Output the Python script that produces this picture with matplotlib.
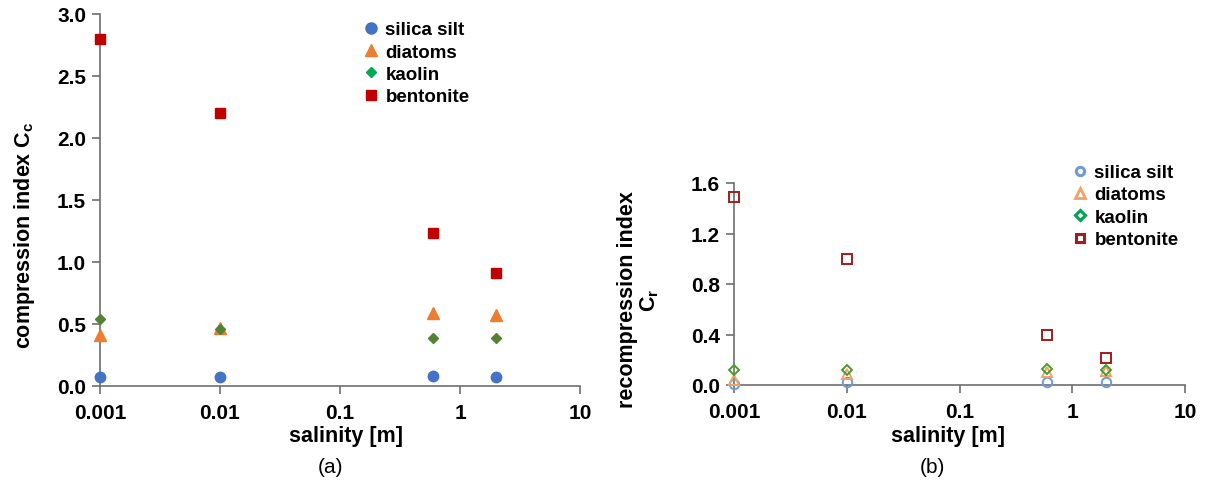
import matplotlib
matplotlib.use("Agg")
import matplotlib.pyplot as plt
from matplotlib.lines import Line2D

plt.rcParams['font.family'] = ['Liberation Sans', 'DejaVu Sans']

salinity = [0.001, 0.01, 0.6, 2.0]
series = ["silica silt", "diatoms", "kaolin", "bentonite"]

cc_silica = [0.07, 0.075, 0.08, 0.075]
cc_diatoms = [0.41, 0.47, 0.59, 0.57]
cc_kaolin = [0.54, 0.46, 0.39, 0.39]
cc_bentonite = [2.80, 2.20, 1.23, 0.91]

cr_silica = [0.01, 0.02, 0.02, 0.02]
cr_diatoms = [0.04, 0.09, 0.10, 0.11]
cr_kaolin = [0.12, 0.12, 0.13, 0.12]
cr_bentonite = [1.49, 1.00, 0.40, 0.21]

x_ticks = [0.001, 0.01, 0.1, 1, 10]
x_ticklabels = ["0.001", "0.01", "0.1", "1", "10"]
cc_ticks = [0.0, 0.5, 1.0, 1.5, 2.0, 2.5, 3.0]
cr_ticks = [0.0, 0.4, 0.8, 1.2, 1.6]

fig = plt.figure(figsize=(12.05, 4.85), dpi=100)
W, H = 1205, 485

def px_axes(x0, x1, ytop, ybot):
    return fig.add_axes([x0 / W, 1 - ybot / H, (x1 - x0) / W, (ybot - ytop) / H])

axA = px_axes(100, 580, 15, 387)
axB = px_axes(734, 1185, 184, 386)

spine_col = "#6e6e6e"
TS = 15

def style(ax, yticks, ylim):
    ax.set_xscale("log")
    ax.set_xlim(0.001, 10)
    ax.set_ylim(*ylim)
    ax.set_xticks(x_ticks)
    ax.set_xticklabels(x_ticklabels)
    ax.minorticks_off()
    ax.set_yticks(yticks)
    ax.set_yticklabels([f"{v:.1f}" for v in yticks])
    for s in ["top", "right"]:
        ax.spines[s].set_visible(False)
    for s in ["left", "bottom"]:
        ax.spines[s].set_color(spine_col)
        ax.spines[s].set_linewidth(1.2)
    ax.tick_params(axis="both", direction="out", length=6, width=1.2, color=spine_col,
                   labelsize=TS)
    ax.tick_params(axis="x", pad=6)
    ax.tick_params(axis="y", pad=4)
    for lab in ax.get_xticklabels() + ax.get_yticklabels():
        lab.set_fontweight("bold")
    ax.set_facecolor("none")

style(axA, cc_ticks, (0, 3.0))
style(axB, cr_ticks, (0, 1.6))

# (a) filled markers
blue = "#4472C4"
orange = "#ED7D31"
green_a = "#548235"
red_a = "#C00000"
axA.plot(salinity, cc_silica, "o", color=blue, ms=7.5, clip_on=False, zorder=5)
axA.plot(salinity, cc_diatoms, "^", color=orange, ms=8.0, clip_on=False, zorder=5)
axA.plot(salinity, cc_kaolin, "D", color=green_a, ms=4.8, clip_on=False, zorder=6)
axA.plot(salinity, cc_bentonite, "s", color=red_a, ms=7.8, clip_on=False, zorder=5)

# (b) hollow markers
blue_b = "#6E9BD6"
orange_b = "#F2A261"
green_b = "#4A9A30"
red_b = "#A31C1C"
mew = 1.4
axB.plot(salinity, cr_silica, "o", mfc="none", mec=blue_b, mew=mew, ms=6.8, clip_on=False, zorder=5)
axB.plot(salinity, cr_diatoms, "^", mfc="none", mec=orange_b, mew=mew, ms=6.8, clip_on=False, zorder=5)
axB.plot(salinity, cr_kaolin, "D", mfc="none", mec=green_b, mew=mew, ms=5.2, clip_on=False, zorder=6)
axB.plot(salinity, cr_bentonite, "s", mfc="none", mec=red_b, mew=mew, ms=7.2, clip_on=False, zorder=5)

# legends
hA = [Line2D([], [], ls="", marker="o", color=blue, ms=8),
      Line2D([], [], ls="", marker="^", color=orange, ms=8),
      Line2D([], [], ls="", marker="D", color="#00A650", ms=5.5),
      Line2D([], [], ls="", marker="s", color=red_a, ms=7.5)]
legA = fig.legend(hA, series, loc="upper left", bbox_to_anchor=(362 / W, 1 - 22 / H),
                  frameon=False, borderpad=0, borderaxespad=0, handlelength=1.0,
                  handletextpad=0.25, labelspacing=0.28,
                  prop={"size": 13.5, "weight": "bold"})
hB = [Line2D([], [], ls="", marker="o", mfc="none", mec=blue_b, mew=2.2, ms=6),
      Line2D([], [], ls="", marker="^", mfc="none", mec=orange_b, mew=2.0, ms=6.5),
      Line2D([], [], ls="", marker="D", mfc="none", mec="#00A650", mew=2.2, ms=5),
      Line2D([], [], ls="", marker="s", mfc="none", mec=red_b, mew=2.2, ms=6)]
legB = fig.legend(hB, series, loc="upper left", bbox_to_anchor=(1071 / W, 1 - 165 / H),
                  frameon=False, borderpad=0, borderaxespad=0, handlelength=1.0,
                  handletextpad=0.25, labelspacing=0.28,
                  prop={"size": 13.5, "weight": "bold"})

# axis labels
fig.text(346 / W, 1 - 437 / H, "salinity [m]", ha="center", va="center",
         fontsize=15.5, fontweight="bold")
fig.text(948 / W, 1 - 437 / H, "salinity [m]", ha="center", va="center",
         fontsize=15.5, fontweight="bold")
fig.text(25 / W, 1 - 235 / H, r"compression index C$_\mathregular{c}$", ha="center", va="center",
         rotation=90, fontsize=15.5, fontweight="bold")
fig.text(627 / W, 1 - 300 / H, "recompression index", ha="center", va="center",
         rotation=90, fontsize=15.5, fontweight="bold")
fig.text(650 / W, 1 - 300 / H, r"C$_\mathregular{r}$", ha="center", va="center",
         rotation=90, fontsize=15.5, fontweight="bold")

fig.text(330 / W, 1 - 468 / H, "(a)", ha="center", va="center", fontsize=15)
fig.text(932 / W, 1 - 468 / H, "(b)", ha="center", va="center", fontsize=15)

fig.savefig("out.png", dpi=100)
